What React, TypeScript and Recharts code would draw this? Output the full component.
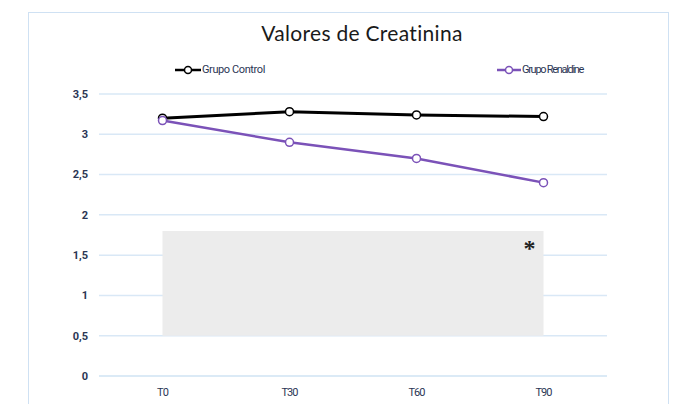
import React from 'react';
import { LineChart, Line, XAxis, YAxis, CartesianGrid, ReferenceArea } from 'recharts';

const tiempos = ['T0', 'T30', 'T60', 'T90'];
const grupoControl = [3.2, 3.28, 3.24, 3.22];
const grupoRenaldine = [3.17, 2.9, 2.7, 2.4];
const yTicks = [0, 0.5, 1, 1.5, 2, 2.5, 3, 3.5];

const data = tiempos.map((t, i) => ({
  tiempo: t,
  control: grupoControl[i],
  renaldine: grupoRenaldine[i],
}));

const textColor = '#2b3654';
const gridColor = '#d9e8f6';

const LegendItem: React.FC<{ color: string; label: string; width: number; spacing: number }> = ({ color, label, width, spacing }) => (
  <div style={{ display: 'flex', alignItems: 'center' }}>
    <svg width={width} height={10}>
      <line x1={0} y1={5} x2={width} y2={5} stroke={color} strokeWidth={2.5} />
      <circle cx={width / 2} cy={5} r={3.5} fill="#fff" stroke={color} strokeWidth={1.5} />
    </svg>
    <span style={{ marginLeft: 1, fontSize: 11, color: textColor, letterSpacing: spacing, fontFamily: 'Roboto, sans-serif' }}>{label}</span>
  </div>
);

const App: React.FC = () => {
  return (
    <div style={{ position: 'absolute', left: 0, top: 0, width: 682, height: 404, background: '#fff', overflow: 'hidden' }}>
      <div
        style={{
          position: 'absolute', left: 28, top: 12, width: 641, height: 420,
          border: '1px solid #cfe1f3', boxSizing: 'border-box',
        }}
      />
      <div
        style={{
          position: 'absolute', left: 0, top: 20, width: 724, textAlign: 'center',
          fontFamily: 'Lato, sans-serif', fontSize: 21, color: '#1a1a1a', letterSpacing: 0.3,
        }}
      >
        Valores de Creatinina
      </div>
      <div style={{ position: 'absolute', left: 175, top: 63 }}>
        <LegendItem color="#000" label="Grupo Control" width={26} spacing={-0.4} />
      </div>
      <div style={{ position: 'absolute', left: 497, top: 63 }}>
        <LegendItem color="#7b52b8" label="Grupo Renaldine" width={24} spacing={-1.3} />
      </div>
      <LineChart
        width={682}
        height={404}
        data={data}
        margin={{ top: 94, right: 75, left: 40, bottom: 6 }}
        style={{ position: 'absolute', left: 0, top: 0 }}
      >
        <CartesianGrid vertical={false} stroke={gridColor} strokeWidth={1.5} />
        <ReferenceArea
          x1="T0"
          x2="T90"
          y1={0.5}
          y2={1.8}
          fill="#ececec"
          fillOpacity={1}
          stroke="none"
          label={{ value: '*', position: 'insideTopRight', offset: 8, fontSize: 24, fontWeight: 700, fill: '#222' }}
        />
        <XAxis
          dataKey="tiempo"
          padding={{ left: 63.5, right: 63.5 }}
          axisLine={{ stroke: gridColor, strokeWidth: 1.5 }}
          tickLine={false}
          height={22}
          tick={{ fill: textColor, fontSize: 11, letterSpacing: -0.9, fontFamily: 'Roboto, sans-serif' }}
          tickMargin={6}
        />
        <YAxis
          domain={[0, 3.5]}
          ticks={yTicks}
          width={59}
          axisLine={false}
          tickLine={false}
          tickMargin={5}
          tickFormatter={(v: number) => String(v).replace('.', ',')}
          tick={{ fill: textColor, fontSize: 11, fontWeight: 700, fontFamily: 'Roboto, sans-serif' }}
        />
        <Line
          type="linear"
          dataKey="control"
          stroke="#000"
          strokeWidth={3}
          dot={{ r: 4, fill: '#fff', stroke: '#000', strokeWidth: 1.5 }}
          isAnimationActive={false}
        />
        <Line
          type="linear"
          dataKey="renaldine"
          stroke="#7b52b8"
          strokeWidth={2.5}
          dot={{ r: 4, fill: '#fff', stroke: '#7b52b8', strokeWidth: 1.5 }}
          isAnimationActive={false}
        />
      </LineChart>
    </div>
  );
};

export default App;
